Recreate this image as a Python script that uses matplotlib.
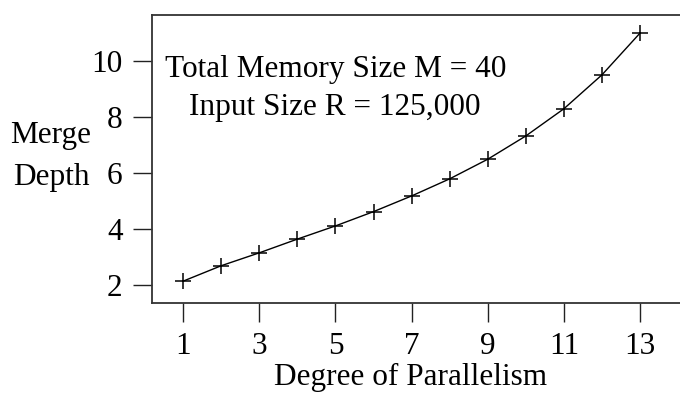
import matplotlib
matplotlib.use("Agg")
import matplotlib.pyplot as plt

# Merge depth as a function of the degree of parallelism
parallelism = [1, 2, 3, 4, 5, 6, 7, 8, 9, 10, 11, 12, 13]
merge_depth = [2.15, 2.70, 3.16, 3.65, 4.12, 4.63, 5.19, 5.80, 6.50, 7.33, 8.30, 9.51, 11.0]
x_ticks = [1, 3, 5, 7, 9, 11, 13]
y_ticks = [2, 4, 6, 8, 10]

W, H = 680, 393
plt.rcParams["font.family"] = ["Liberation Serif", "DejaVu Serif"]
FS = 22.5

fig = plt.figure(figsize=(W / 100, H / 100), dpi=100)
left, right, bottom, top = 151.7, 697.0, 303.3, 15.0
ax = fig.add_axes([left / W, 1 - bottom / H, (right - left) / W, (bottom - top) / H])

ax.plot(parallelism, merge_depth, color="black", linewidth=1.0,
        marker="+", markersize=12, markeredgewidth=1.1)

ax.set_xlim(0.17, 14.5)
ax.set_ylim(1.357, 11.65)
ax.set_xticks(x_ticks)
ax.set_yticks(y_ticks)
ax.tick_params(axis="both", direction="out", length=14, width=1.0,
               pad=7, labelsize=FS, color="#222222")

for side in ("left", "bottom", "top"):
    ax.spines[side].set_linewidth(1.3)
    ax.spines[side].set_color("#333333")
ax.spines["right"].set_visible(False)

# Axis titles and annotation, placed in pixel coordinates
def px(x, y):
    return x / W, 1 - y / H

fig.text(*px(51, 135), "Merge", ha="center", va="center", fontsize=FS)
fig.text(*px(51, 177), "Depth", ha="center", va="center", fontsize=FS)
fig.text(*px(411, 385), "Degree of Parallelism", ha="center", va="baseline", fontsize=FS)
fig.text(*px(336, 77.3), "Total Memory Size M = 40", ha="center", va="baseline", fontsize=FS)
fig.text(*px(335, 115), "Input Size R = 125,000", ha="center", va="baseline", fontsize=FS)

fig.savefig("out.png", dpi=100)
